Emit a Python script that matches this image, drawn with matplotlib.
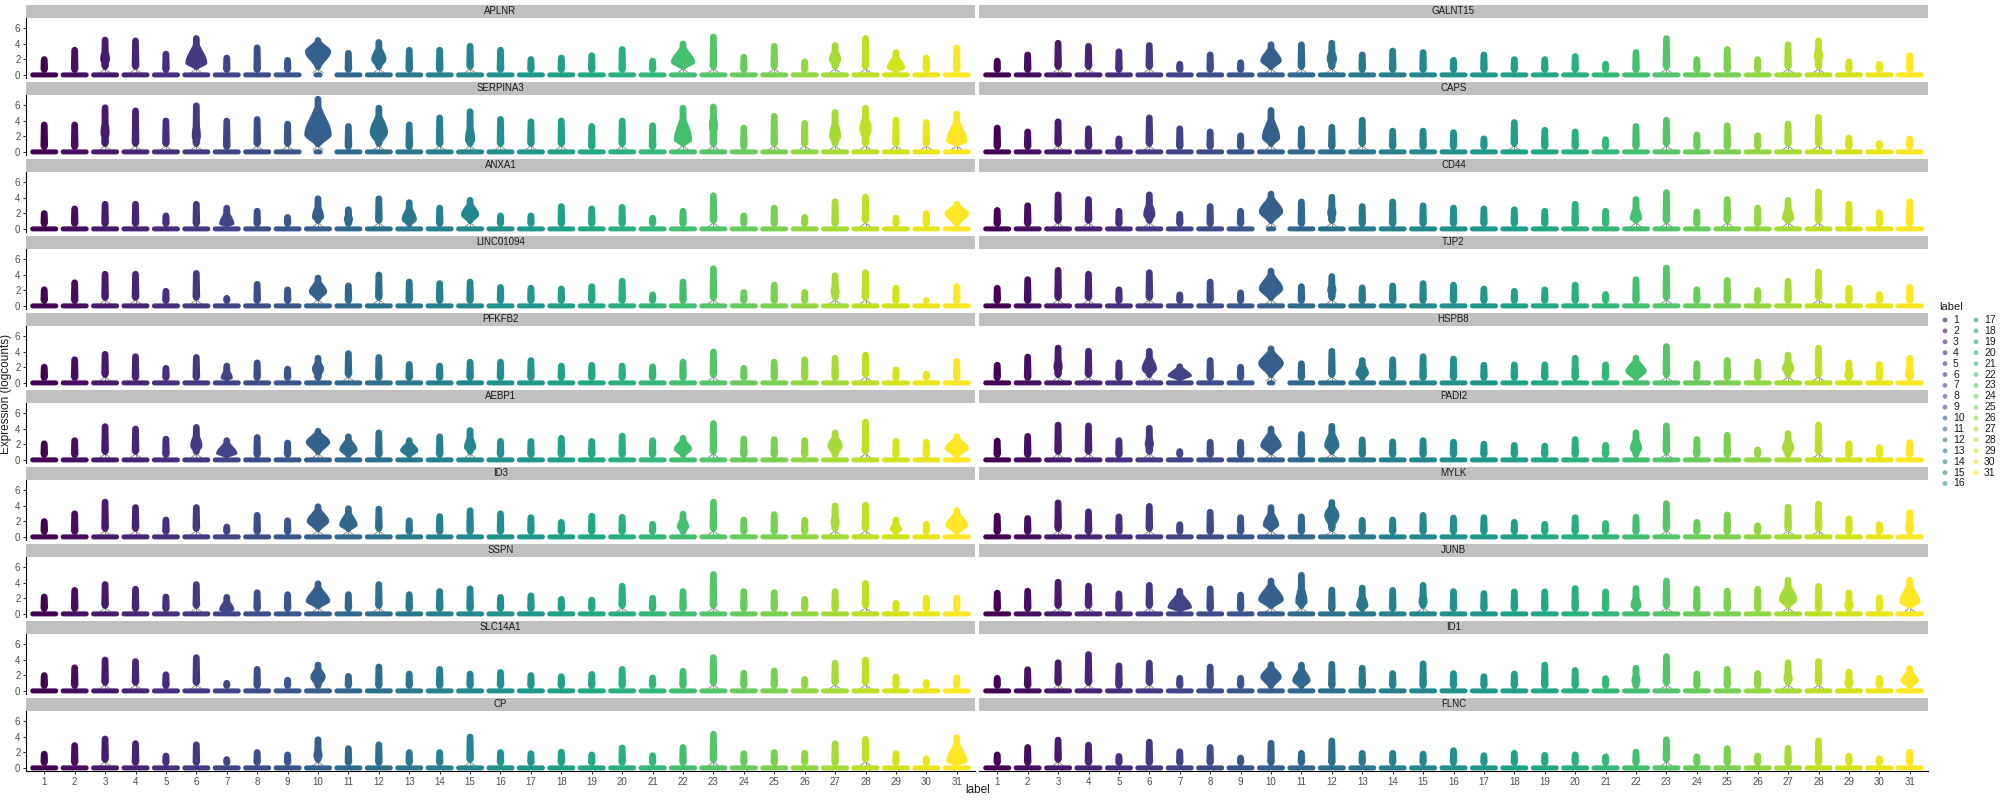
import numpy as np
import matplotlib
matplotlib.use("Agg")
import matplotlib.pyplot as plt
from matplotlib.patches import Polygon

plt.rcParams['font.family'] = ['Liberation Sans', 'DejaVu Sans']

# ---------------- data ----------------
CLUSTERS = list(range(1, 32))
GENES = ["APLNR", "GALNT15", "SERPINA3", "CAPS", "ANXA1", "CD44",
         "LINC01094", "TJP2", "PFKFB2", "HSPB8", "AEBP1", "PADI2",
         "ID3", "MYLK", "SSPN", "JUNB", "SLC14A1", "ID1", "CP", "FLNC"]

# maximum expression reached by each cluster's points
APLNR_TOP = [2.4,3.6,4.9,4.8,3.1,5.1,2.6,3.9,2.3,4.85,3.2,4.6,3.6,3.6,4.1,3.6,2.4,2.6,2.9,3.7,2.2,4.4,5.3,2.7,4.1,2.1,4.2,5.1,3.3,2.6,3.9]
SERPINA3_TOP = [3.9,3.9,6.1,5.7,4.4,6.35,4.4,4.6,4.0,7.2,3.7,6.05,3.9,4.8,5.6,4.6,4.3,4.4,3.7,4.4,3.8,6.05,6.2,3.5,5.0,4.1,5.5,6.05,4.5,4.2,5.3]
ANXA1_TOP = [2.4,3.0,3.6,3.6,2.1,3.6,3.1,2.7,1.9,4.3,2.9,4.3,3.8,3.1,4.1,2.1,2.1,3.3,3.0,3.2,1.8,2.7,4.7,2.1,3.1,1.9,3.9,4.5,1.8,2.4,3.6]
LINC01094_TOP = [2.5,3.4,4.5,4.5,2.3,4.6,1.4,3.2,2.5,4.0,3.0,4.4,3.5,3.3,3.5,2.8,2.7,2.6,2.9,3.6,1.85,3.5,5.2,2.15,3.1,2.15,4.3,4.7,2.7,1.1,2.9]
PFKFB2_TOP = [2.45,3.4,4.1,3.8,2.3,3.7,2.6,3.0,2.2,3.6,4.2,3.7,2.8,2.6,3.1,3.1,3.3,2.6,2.7,2.6,2.5,3.1,4.4,2.3,3.1,3.4,3.6,4.0,2.1,1.55,3.2]
AEBP1_TOP = [2.5,2.9,4.7,4.4,3.1,4.6,2.9,3.3,2.6,4.1,3.4,3.9,2.9,3.4,4.2,2.8,2.8,3.2,2.8,3.5,2.9,3.2,5.1,3.1,3.05,2.9,3.9,5.3,2.8,2.7,3.4]
ID3_TOP = [2.4,3.4,4.9,4.2,2.6,4.2,1.7,3.2,2.5,4.3,4.05,4.0,2.5,3.05,3.8,3.4,2.9,2.3,3.1,2.95,2.05,3.35,4.9,2.6,3.3,2.55,4.4,4.5,2.6,2.05,3.8]
SSPN_TOP = [2.6,3.45,4.2,3.6,2.6,4.2,2.55,3.15,2.9,4.3,2.9,4.2,2.9,3.3,3.65,2.55,2.75,2.3,2.2,4.0,2.45,3.3,5.5,3.3,3.15,2.3,3.3,4.35,1.8,2.45,2.45]
SLC14A1_TOP = [2.4,3.4,4.4,4.2,2.5,4.7,1.4,3.2,1.8,3.75,2.3,3.5,2.6,3.2,2.6,2.8,2.4,2.25,2.55,3.2,2.1,2.95,4.7,2.7,3.0,1.9,4.0,4.4,2.2,1.5,2.1]
CP_TOP = [2.2,3.3,4.15,3.55,1.95,3.4,1.5,2.4,2.1,4.05,2.9,3.4,2.4,2.4,4.4,2.4,2.25,2.45,2.1,3.0,2.0,3.05,4.75,2.25,2.4,2.3,3.55,4.1,2.25,1.6,4.3]
GALNT15_TOP = [2.2,3.0,4.5,4.1,3.4,4.2,1.8,3.0,2.0,4.3,4.3,4.5,3.0,3.5,3.3,2.3,3.0,2.4,2.4,2.8,1.8,3.3,5.1,2.4,3.7,2.4,4.3,4.8,2.1,1.8,2.9]
CAPS_TOP = [3.5,3.0,4.3,3.4,2.1,4.8,3.4,3.0,2.5,5.75,3.4,3.6,4.5,3.1,3.1,2.9,2.1,4.2,3.2,3.0,2.0,3.7,4.5,2.6,3.8,2.5,4.0,4.85,2.2,1.5,2.1]
CD44_TOP = [2.8,3.4,4.8,4.2,2.7,4.8,2.3,3.3,2.7,4.9,3.9,4.5,3.3,3.9,3.4,3.1,3.0,2.9,2.7,3.6,2.7,4.2,5.1,2.6,4.2,3.1,4.1,5.2,3.6,2.5,3.9]
TJP2_TOP = [2.7,3.8,5.0,4.5,2.5,4.7,1.85,3.5,2.1,4.9,2.9,4.2,2.75,3.0,3.3,3.1,2.6,2.3,2.5,3.1,1.9,3.8,5.3,2.5,3.7,2.4,3.6,4.8,2.7,1.9,2.8]
HSPB8_TOP = [2.7,3.75,4.9,4.5,3.0,4.5,2.5,3.3,2.45,4.8,2.9,4.5,3.3,3.4,3.8,3.5,2.7,2.75,2.75,3.6,2.75,3.6,5.1,2.9,3.3,3.1,4.0,4.9,3.0,2.8,3.6]
PADI2_TOP = [2.85,3.45,4.9,4.8,2.9,4.5,1.5,2.7,2.7,4.4,3.7,4.75,3.0,2.75,2.9,2.7,2.45,2.3,2.2,3.05,2.3,3.9,4.8,3.05,3.6,1.7,3.8,4.9,2.5,2.0,2.65]
MYLK_TOP = [3.1,2.8,4.8,3.65,3.0,4.35,2.0,3.6,2.9,4.2,3.0,4.85,2.55,2.6,3.2,2.85,2.9,2.3,2.05,2.9,2.15,2.95,4.7,2.3,3.25,1.85,4.25,4.65,2.75,2.0,3.55]
JUNB_TOP = [3.1,3.35,4.5,4.0,3.0,4.1,3.35,3.65,2.85,4.65,5.4,3.5,3.75,3.45,4.1,3.3,3.05,3.25,3.25,3.7,3.25,3.7,4.65,3.6,3.35,3.6,4.75,3.95,3.1,2.5,4.75]
ID1_TOP = [2.05,3.15,4.05,5.1,3.65,4.0,2.05,3.5,2.05,3.8,3.75,3.85,3.35,2.65,3.9,2.65,2.25,2.6,3.75,3.05,2.0,3.35,4.85,2.6,3.2,2.65,4.05,4.2,2.85,2.05,3.3]
FLNC_TOP = [2.1,3.05,4.0,3.35,1.9,3.75,2.5,3.05,1.7,3.6,2.3,3.9,2.3,2.3,2.2,2.65,2.0,2.3,2.05,2.1,1.85,2.45,4.05,1.85,2.9,1.95,2.95,3.9,1.95,1.6,2.45]

# violin bulges: (cluster, half width in cluster units, height of widest part)
APLNR_BULGE = [(2,0.12,1.5),(3,0.16,2.0),(6,0.36,1.5),(10,0.43,3.0),(12,0.25,2.0),(22,0.40,1.6),(27,0.20,2.0),(28,0.12,3.0),(29,0.30,0.9)]
SERPINA3_BULGE = [(3,0.15,2.5),(6,0.15,2.0),(7,0.12,0.8),(10,0.45,2.2),(12,0.30,2.5),(15,0.17,1.5),(22,0.30,1.5),(23,0.15,3.5),(27,0.20,2.0),(28,0.20,3.0),(31,0.35,1.3)]
ANXA1_BULGE = [(7,0.25,0.6),(10,0.20,1.5),(11,0.15,1.2),(13,0.25,1.2),(15,0.30,1.8),(27,0.12,2.0),(31,0.40,2.0)]
LINC01094_BULGE = [(10,0.30,1.8),(22,0.12,1.2),(27,0.15,1.8),(28,0.12,2.5)]
PFKFB2_BULGE = [(7,0.20,0.6),(10,0.20,1.8),(13,0.12,1.0),(22,0.10,1.2),(27,0.12,1.5)]
AEBP1_BULGE = [(3,0.12,2.0),(6,0.20,1.8),(7,0.35,0.8),(10,0.40,2.3),(11,0.30,1.3),(12,0.12,2.0),(13,0.30,1.2),(15,0.20,1.6),(22,0.30,1.4),(27,0.25,1.8),(31,0.40,1.5)]
ID3_BULGE = [(10,0.37,2.0),(11,0.30,1.5),(22,0.20,1.3),(27,0.15,1.8),(28,0.12,2.5),(29,0.20,0.9),(31,0.37,1.5)]
SSPN_BULGE = [(7,0.25,0.5),(10,0.40,1.6),(13,0.10,1.0),(22,0.12,1.5),(27,0.12,1.5)]
SLC14A1_BULGE = [(10,0.25,1.8)]
CP_BULGE = [(10,0.15,1.5),(31,0.35,0.8)]
GALNT15_BULGE = [(10,0.35,1.8),(12,0.17,2.0),(22,0.12,1.5),(27,0.12,2.0),(28,0.15,2.5)]
CAPS_BULGE = [(7,0.12,0.8),(10,0.30,1.8)]
CD44_BULGE = [(3,0.12,2.0),(6,0.20,1.8),(10,0.40,2.2),(12,0.15,2.0),(22,0.20,1.3),(27,0.20,1.3),(28,0.12,2.5)]
TJP2_BULGE = [(10,0.40,2.2),(12,0.15,2.0),(22,0.12,1.5),(27,0.10,1.5),(28,0.12,2.5)]
HSPB8_BULGE = [(3,0.15,2.0),(6,0.25,1.8),(7,0.40,0.9),(10,0.42,2.5),(12,0.12,2.0),(13,0.22,1.2),(22,0.35,1.5),(27,0.20,1.8),(28,0.12,2.5),(29,0.15,0.9),(31,0.15,1.0)]
PADI2_BULGE = [(6,0.15,2.0),(10,0.35,1.8),(12,0.25,1.8),(22,0.20,1.5),(27,0.20,1.5),(28,0.12,2.5)]
MYLK_BULGE = [(10,0.27,1.5),(12,0.25,2.8),(27,0.12,2.0),(28,0.12,2.5),(31,0.15,1.0)]
JUNB_BULGE = [(7,0.40,0.8),(10,0.42,1.8),(11,0.20,1.5),(13,0.20,1.0),(15,0.15,1.5),(22,0.18,1.0),(26,0.12,1.0),(27,0.30,1.8),(29,0.15,1.0),(31,0.35,1.5)]
ID1_BULGE = [(10,0.35,1.8),(11,0.30,1.3),(22,0.15,1.3),(27,0.15,1.5),(29,0.15,1.0),(31,0.30,1.3)]
FLNC_BULGE = [(10,0.12,1.2)]

# clusters whose band of zero values is short: (gene, cluster, half length)
ZERO_NARROW = [("APLNR", 10, 0.15), ("SERPINA3", 10, 0.15), ("CD44", 10, 0.17), ("HSPB8", 10, 0.14)]

Y_TICKS = [0, 2, 4, 6]

TOPS = {g: globals()[g + "_TOP"] for g in GENES}
BULGES = {g: globals()[g + "_BULGE"] for g in GENES}

# ---------------- layout ----------------
W, H = 2000, 800
fig = plt.figure(figsize=(W / 100, H / 100), dpi=100)
XLIM = (0.4, 31.6)
YLIM = (-0.40, 7.38)
COL_LEFT = [26, 979]
PANEL_W = 949
ROW0_TOP = 17.5
PITCH = 77.0
PANEL_H = 60.5
STRIP_H = 12.5

PX_X = PANEL_W / (XLIM[1] - XLIM[0])
PX_Y = PANEL_H / (YLIM[1] - YLIM[0])

cmap = plt.get_cmap('viridis')
COLORS = [cmap(v) for v in np.linspace(0, 1, len(CLUSTERS))]


def zero_bar(ax, x, half_len, color):
    r = 2.5  # px
    hb = r / PX_Y
    rx = r / PX_X
    L = max(half_len - rx, 0.0)
    th = np.linspace(-np.pi / 2, np.pi / 2, 20)
    right = np.column_stack([x + L + rx * np.cos(th), hb * np.sin(th)])
    left = np.column_stack([x - L - rx * np.cos(th[::-1]), hb * np.sin(th[::-1])])
    ax.add_patch(Polygon(np.vstack([right, left]), closed=True, fc=color, ec='none', zorder=3))


def body(ax, x, top, bulge, color):
    r = 3.3  # px half width of the point column
    hw = r / PX_X
    capy = r / PX_Y
    if bulge is not None and bulge[1] < 1.2:
        y0 = 0.25
    elif top >= 4.0:
        y0 = 0.65
    else:
        y0 = 0.25
    ys = np.linspace(y0, top, 300)
    # point column slightly fuller in its lower half
    h = hw * (1.0 + 0.18 * np.clip(1 - (ys - y0) / max(top - y0, 0.1), 0, 1))
    t = ys > top - capy
    h[t] = hw * np.sqrt(np.clip(1 - ((ys[t] - (top - capy)) / capy) ** 2, 0, 1))
    b = ys < y0 + capy
    h[b] = hw * np.sqrt(np.clip(1 - ((y0 + capy - ys[b]) / capy) ** 2, 0, 1))
    if bulge is not None:
        wid, pk = bulge
        s_low = max((pk - y0) / 2.0, 0.2)
        s_up = max((top - pk) / 2.3, 0.2)
        s = np.where(ys < pk, s_low, s_up)
        bw = wid * np.exp(-0.5 * ((ys - pk) / s) ** 2)
        h = np.maximum(h, bw)
    ax.plot([x, x], [0.2, y0 + 0.35], color='#7f7f7f', lw=0.6, zorder=2)
    if y0 > 0.5:
        # lower outline of the violin flaring out to the zero band
        for sgn in (-1, 1):
            ax.plot([x + sgn * 0.02, x + sgn * 0.17], [y0 + 0.05, 0.3], color='#7f7f7f', lw=0.6, zorder=2)
    pts = np.vstack([np.column_stack([x - h, ys]), np.column_stack([x + h, ys])[::-1]])
    ax.add_patch(Polygon(pts, closed=True, fc=color, ec='none', zorder=3))


for gi, gene in enumerate(GENES):
    row, col = divmod(gi, 2)
    left = COL_LEFT[col] / W
    ptop = ROW0_TOP + PITCH * row
    ax = fig.add_axes([left, 1 - (ptop + PANEL_H) / H, PANEL_W / W, PANEL_H / H])
    sax = fig.add_axes([left, 1 - ptop / H, PANEL_W / W, STRIP_H / H])
    sax.set_facecolor('#C0C0C0')
    sax.set_xticks([]); sax.set_yticks([])
    for sp in sax.spines.values():
        sp.set_visible(False)
    sax.text(0.5, 0.5, gene, ha='center', va='center', fontsize=7, color='#1a1a1a', transform=sax.transAxes)

    ax.set_xlim(*XLIM)
    ax.set_ylim(*YLIM)
    ax.set_facecolor('white')
    for sp in ['top', 'right']:
        ax.spines[sp].set_visible(False)
    narrow = {c: hl for (g, c, hl) in ZERO_NARROW if g == gene}
    bl = {c: (w, p) for (c, w, p) in BULGES[gene]}
    for ci, c in enumerate(CLUSTERS):
        color = COLORS[ci]
        zero_bar(ax, c, narrow.get(c, 0.46), color)
        body(ax, c, TOPS[gene][ci], bl.get(c), color)

    if col == 0:
        ax.spines['left'].set_color('black')
        ax.spines['left'].set_linewidth(0.8)
        ax.set_yticks(Y_TICKS)
        ax.set_yticklabels([str(v) for v in Y_TICKS], fontsize=7, color='#4d4d4d')
        ax.tick_params(axis='y', length=2.5, width=0.6, pad=1.5)
    else:
        ax.spines['left'].set_visible(False)
        ax.set_yticks([])
    if row == 9:
        ax.spines['bottom'].set_color('black')
        ax.spines['bottom'].set_linewidth(0.8)
        ax.set_xticks(CLUSTERS)
        ax.set_xticklabels([str(c) for c in CLUSTERS], fontsize=7, color='#4d4d4d')
        ax.tick_params(axis='x', length=2.5, width=0.6, pad=2)
    else:
        ax.spines['bottom'].set_visible(False)
        ax.set_xticks([])

fig.text(978 / W, 1 - 790 / H, 'label', ha='center', va='center', fontsize=8.5, color='#1a1a1a')
fig.text(6 / W, 1 - 394 / H, 'Expression (logcounts)', ha='center', va='center', rotation=90, fontsize=8.5, color='#1a1a1a')

# legend
lax = fig.add_axes([1930 / W, 0, 70 / W, 1])
lax.set_xlim(1930, 2000)
lax.set_ylim(800, 0)
lax.axis('off')
lax.text(1939, 307, 'label', ha='left', va='center', fontsize=8, color='#1a1a1a')
for k, c in enumerate(CLUSTERS):
    cc, rr = divmod(k, 16)
    yy = 320 + 10.9 * rr
    xp = 1945 + 31 * cc
    lax.scatter([xp], [yy], s=12, color=COLORS[k], alpha=0.6, edgecolors='none')
    lax.text(xp + 8, yy, str(c), ha='left', va='center', fontsize=7.5, color='#1a1a1a')

fig.savefig('out.png', dpi=100, facecolor='white')
